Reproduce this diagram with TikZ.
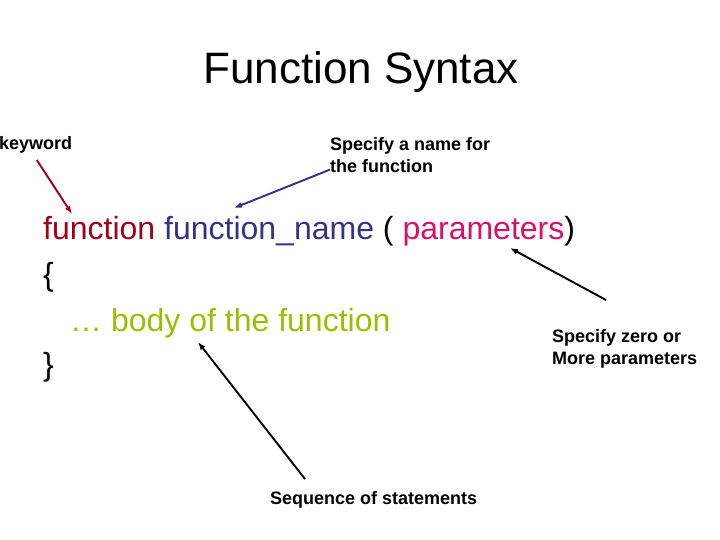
\documentclass[tikz,border=0pt]{standalone}
\usepackage{fontspec}
\setmainfont{Liberation Sans}
\usetikzlibrary{arrows.meta}

\definecolor{kwred}{HTML}{A00018}
\definecolor{navy}{HTML}{333388}
\definecolor{parpink}{HTML}{D8106A}
\definecolor{bodygreen}{HTML}{99C000}

\begin{document}
\begin{tikzpicture}[x=1pt, y=-1pt]

\tikzstyle{lbl}=[inner sep=0pt, font=\fontsize{18}{22}\selectfont\bfseries, align=left]
\tikzstyle{code}=[inner sep=0pt, anchor=base west, font=\fontsize{32}{45}\selectfont]
\tikzstyle{pointer}=[-{Latex[length=8pt,width=6pt]}, line width=1.9pt]

\useasboundingbox (0,0) rectangle (720,540);

\node (title) [inner sep=0pt, anchor=base, font=\fontsize{44}{50}\selectfont] at (361,84) {Function Syntax};

\node (kwlbl) [lbl, anchor=base west] at (-1,150) {keyword};
\node (namelbl) [lbl, anchor=north west] at (330,137) {Specify a name for\\the function};
\node (paramlbl) [lbl, anchor=north west] at (552,329) {Specify zero or\\More parameters};
\node (seqlbl) [lbl, anchor=base west] at (270,504) {Sequence of statements};

\node (sigline) [code] at (43,240) {{\color{kwred}function} {\color{navy}function\_name} ( {\color{parpink}parameters})};
\node (openbr) [code] at (43,285) {\{};
\node (bodyline) [code, text=bodygreen] at (70,331) {… body of the function};
\node (closebr) [code] at (43,375) {\}};

\coordinate (kwtip) at (72,214);
\coordinate (nametip) at (234,208);
\coordinate (paramtail) at (606,300);
\coordinate (paramtip) at (510,248);
\coordinate (seqtail) at (305,479);
\coordinate (seqtip) at (198,342);

\draw [pointer, kwred] (kwlbl.south) ++(1,6) -- (kwtip);
\draw [pointer, navy] (namelbl.south west) ++(0,-3) -- (nametip);
\draw [pointer] (paramtail) -- (paramtip);
\draw [pointer] (seqtail) -- (seqtip);

\end{tikzpicture}
\end{document}
